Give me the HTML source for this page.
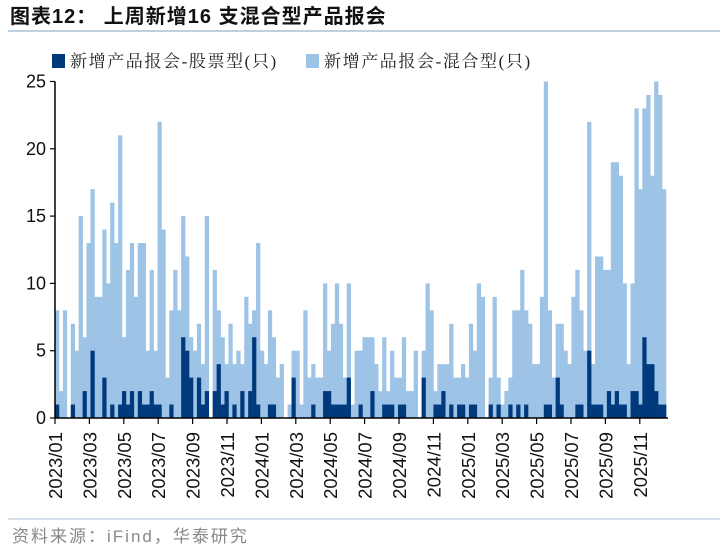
<!DOCTYPE html>
<html><head><meta charset="utf-8"><style>
body{margin:0;background:#fff;}
svg text{font-family:"Liberation Sans","Noto Sans CJK SC",sans-serif;}
</style></head><body>
<svg id="chart" width="720" height="553" viewBox="0 0 720 553" xmlns="http://www.w3.org/2000/svg">
<text x="10" y="23" font-size="20" font-weight="bold" fill="#111" letter-spacing="1">图表12：  上周新增16 支混合型产品报会</text>
<line x1="8" y1="31" x2="720" y2="31" stroke="#a9bfd6" stroke-width="1.5"/>
<g>
<rect x="52" y="54" width="13" height="14" fill="#003a7d"/>
<text x="70" y="67" font-size="17" fill="#222" letter-spacing="1.6" style="font-family:'Liberation Serif','Noto Serif CJK SC',serif">新增产品报会-股票型(只)</text>
<rect x="306" y="54" width="13" height="14" fill="#9dc3e6"/>
<text x="324" y="67" font-size="17" fill="#222" letter-spacing="1.6" style="font-family:'Liberation Serif','Noto Serif CJK SC',serif">新增产品报会-混合型(只)</text>
</g>
<g id="bars-mixed"></g>
<g id="bars-stock"></g>
<g id="axes"></g>
<line x1="8" y1="519" x2="720" y2="519" stroke="#a9bfd6" stroke-width="1"/>
<text x="12" y="542" font-size="17" fill="#888" letter-spacing="2">资料来源：iFind，华泰研究</text>
</svg>
<script>
const mixedValues=[8,2,8,0,7,5,15,6,13,17,9,9,14,10,16,13,21,6,11,13,9,13,13,5,11,5,22,14,3,8,11,8,15,12,6,5,7,4,15,0,11,8,6,4,7,4,5,4,9,7,8,13,
5,4,8,6,3,4,0,1,5,5,1,8,3,4,3,3,10,5,7,10,7,3,10,1,5,5,6,6,6,4,2,6,2,5,3,3,6,2,2,5,0,5,10,8,2,4,4,4,7,3,3,
4,3,7,5,10,9,0,3,9,3,1,2,3,8,8,11,8,7,4,4,9,25,8,3,7,7,5,4,9,11,8,5,22,4,12,12,11,11,19,19,18,10,4,10,23,17,23,24,18,25,24,17];
const stockIdx=[0,4,7,9,12,14,16,17,18,19,21,22,23,24,25,26,29,32,33,34,36,37,38,40,41,42,43,45,47,49,50,51,54,55,60,65,68,69,70,71,72,73,74,77,80,83,84,85,87,88,93,96,97,98,100,102,103,105,106,110,112,115,117,119,124,125,127,128,132,133,135,136,137,138,140,141,142,143,144,146,147,148,149,150,151,152,153,154];
const stockVals=[1,1,2,5,3,1,1,2,1,2,2,1,1,2,1,1,1,6,5,3,3,1,2,2,4,1,2,1,2,2,6,1,1,1,3,1,2,2,1,1,1,1,3,1,2,1,1,1,1,1,3,1,1,2,1,1,1,1,1,1,1,1,1,1,1,1,3,1,1,1,5,1,1,1,2,1,2,1,1,2,2,1,6,4,4,2,1,1];
const yTicks=[0,5,10,15,20,25];
const xTickLabels=["2023/01","2023/03","2023/05","2023/07","2023/09","2023/11","2024/01","2024/03","2024/05","2024/07","2024/09","2024/11","2025/01","2025/03","2025/05","2025/07","2025/09","2025/11"];

const NS="http://www.w3.org/2000/svg";
const X0=55,X1=666,Y0=418,Y25=81.5;
const n=mixedValues.length;
const bw=(X1-X0)/n;
function xs(i){return X0+i*bw;}
function ys(v){return Y0-(Y0-Y25)*v/25;}
function mk(tag,attrs,parent){const e=document.createElementNS(NS,tag);for(const k in attrs)e.setAttribute(k,attrs[k]);parent.appendChild(e);return e;}
const gm=document.getElementById('bars-mixed'),gs=document.getElementById('bars-stock'),ga=document.getElementById('axes');
mixedValues.forEach((v,i)=>{
  const r=mk('rect',{x:xs(i),y:ys(v),width:bw+0.3,height:Y0-ys(v),fill:'#9dc3e6'},gm);
  
  
});
stockIdx.forEach((i,k)=>{
  const v=stockVals[k];
  const r=mk('rect',{x:xs(i),y:ys(v),width:bw+0.3,height:Y0-ys(v),fill:'#003a7d'},gs);
  
  
});
const ya=mk('line',{x1:X0,y1:Y25,x2:X0,y2:Y0,stroke:'#000','stroke-width':1.5},ga);


const xa=mk('line',{x1:X0,y1:Y0,x2:X1+2,y2:Y0,stroke:'#000','stroke-width':1.5},ga);


yTicks.forEach(t=>{
  mk('line',{x1:X0-5,y1:ys(t),x2:X0,y2:ys(t),stroke:'#000','stroke-width':1.2},ga);
  const tx=mk('text',{x:X0-9,y:ys(t)+6,'font-size':18,'text-anchor':'end',fill:'#111'},ga);
  tx.textContent=t;
  
  
});
const step=34.4;
xTickLabels.forEach((l,k)=>{
  const x=X0+k*step;
  mk('line',{x1:x,y1:Y0,x2:x,y2:Y0+6,stroke:'#000','stroke-width':1.2},ga);
  const tx=mk('text',{x:0,y:0,'font-size':18.5,'text-anchor':'end',fill:'#111',transform:`translate(${x+7},432) rotate(-90)`},ga);
  tx.textContent=l;
  
  
});
</script>
</body></html>
